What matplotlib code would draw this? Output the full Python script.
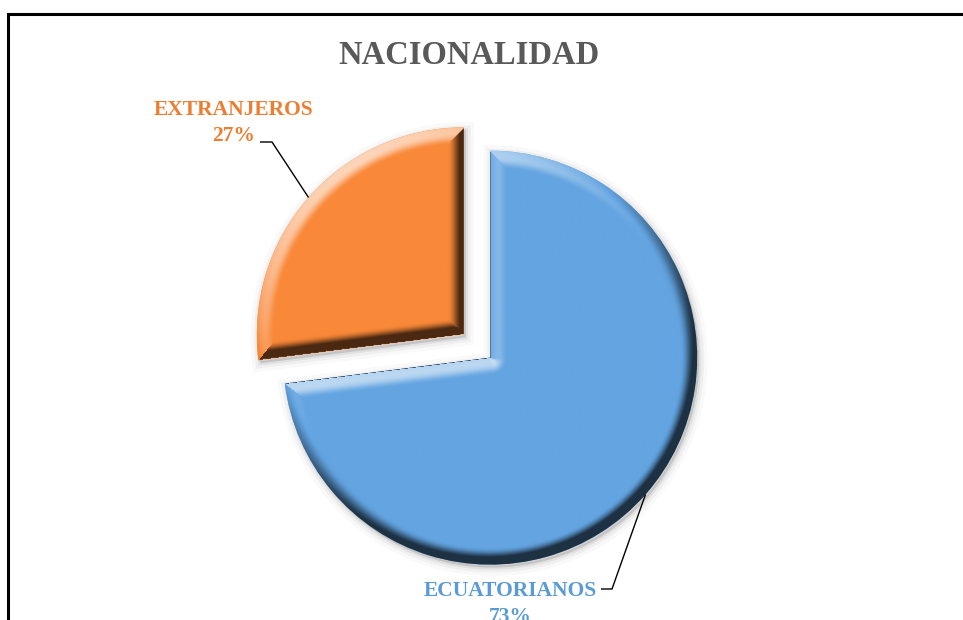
import numpy as np
import matplotlib
matplotlib.use("Agg")
import matplotlib.pyplot as plt
from matplotlib.colors import to_rgb
from matplotlib.patches import Wedge, Rectangle

# data
labels = ["ECUATORIANOS", "EXTRANJEROS"]
values = [73, 27]
face_colors = ["#63A4E1", "#F98839"]
label_colors = ["#5B9BD5", "#ED7D31"]
title = "NACIONALIDAD"

W, H = 963, 620
R_PX = 207.0            # pie radius in pixels
CX, CY = 477.0, 346.0   # pie centre in pixels (from top)

fig = plt.figure(figsize=(W / 100, H / 100), dpi=100)
ax = fig.add_axes([0, 0, 1, 1])


def px(x, y):
    """pixel position (from top-left) -> data coordinates"""
    return (x - CX) / R_PX, (CY - y) / R_PX


u = 1.0 / R_PX  # one pixel in data units
LIGHT = np.array([-0.45, 0.75, 0.6])
LIGHT = LIGHT / np.linalg.norm(LIGHT)


def bevel(w, base, bw=17.0, k=2.3):
    """shade a wedge like an office 'bevel' effect, light from the top-left"""
    cx, cy = w.center
    r = w.r
    n = int(2 * r / u) + 2
    xs = np.linspace(cx - r, cx + r, n)
    X, Y = np.meshgrid(xs, xs - cx + cy)
    RX, RY = X - cx, Y - cy
    rho = np.hypot(RX, RY) + 1e-9
    best = (r - rho) / u
    NX, NY = RX / rho, RY / rho
    for th in (w.theta1, w.theta2):
        ex, ey = np.cos(np.deg2rad(th)), np.sin(np.deg2rad(th))
        t = np.clip(RX * ex + RY * ey, 0, r)
        vx, vy = RX - t * ex, RY - t * ey
        dist = np.hypot(vx, vy) + 1e-9
        m = dist / u < best
        best = np.where(m, dist / u, best)
        NX = np.where(m, -vx / dist, NX)
        NY = np.where(m, -vy / dist, NY)
    s = k * np.clip(1 - best / bw, 0, 1) ** 1.8
    nz = 1 / np.sqrt(1 + s ** 2)
    inten = s * NX * nz * LIGHT[0] + s * NY * nz * LIGHT[1] + nz * LIGHT[2]
    ratio = (inten / LIGHT[2])[..., None]
    b = np.array(to_rgb(base))
    dark = b * (0.3 + 0.7 * np.clip(ratio, 0, 1) ** 1.1)
    light = b + (1 - b) * np.clip((ratio - 1) * 0.85, 0, 0.7)
    img = np.where(ratio < 1, dark, light)
    im = ax.imshow(img, extent=(cx - r, cx + r, cy - r, cy + r), origin="lower",
                   interpolation="bilinear", zorder=3)
    im.set_clip_path(w)


wedges, _ = ax.pie(values, colors=face_colors, startangle=90, counterclock=False,
                   explode=[0.085, 0.085], radius=1.0,
                   wedgeprops=dict(linewidth=0))

for i, w in enumerate(wedges):
    w.set_zorder(2)
    # soft drop shadow
    c = w.center
    for lw, a in [(12, 0.025), (7, 0.04), (3, 0.06)]:
        ax.add_patch(Wedge((c[0] + 2 * u, c[1] - 3 * u), w.r, w.theta1, w.theta2,
                           facecolor="black", edgecolor="black", linewidth=lw,
                           alpha=a, zorder=1))
    bevel(w, face_colors[i])

ax.set_aspect("auto")
ax.set_xlim((0 - CX) / R_PX, (W - CX) / R_PX)
ax.set_ylim((CY - H) / R_PX, CY / R_PX)
ax.axis("off")

# labels with leader lines at the middle of each slice
label_pos = [px(510, 604), px(234, 123)]
elbows = [[px(601, 589), px(612, 589)], [px(260, 142), px(272, 142)]]
for i, w in enumerate(wedges):
    mid = np.deg2rad((w.theta1 + w.theta2) / 2)
    ex = w.center[0] + w.r * np.cos(mid)
    ey = w.center[1] + w.r * np.sin(mid)
    (x0, y0), (x1, y1) = elbows[i]
    ax.plot([x0, x1, ex], [y0, y1, ey], color="black", lw=1.0, zorder=5,
            solid_capstyle="butt")
    ax.text(label_pos[i][0], label_pos[i][1], f"{labels[i]}\n{values[i]}%",
            ha="center", va="center", color=label_colors[i], fontsize=15.5,
            fontweight="bold", family="Liberation Serif", linespacing=1.35, zorder=6)

fig.text(469 / W, 1 - 55 / H, title, ha="center", va="center", color="#595959",
         fontsize=23.5, fontweight="bold", family="Liberation Serif")

# chart border (left and top edges visible)
fig.patches.append(Rectangle((8 / W, -0.2), 1.2, 1.2 - 14 / H, transform=fig.transFigure,
                             fill=False, edgecolor="black", linewidth=2.2))

fig.savefig("out.png", dpi=100, facecolor="white")
